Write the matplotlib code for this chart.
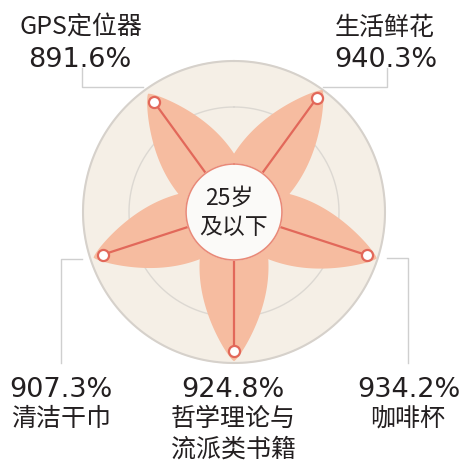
import numpy as np
import matplotlib
matplotlib.use("Agg")
import matplotlib.pyplot as plt
from matplotlib.lines import Line2D

### DATA ###

categories = ["生活鲜花", "咖啡杯", "哲学理论与\n流派类书籍", "清洁干巾", "GPS定位器"]
values = [940.3, 934.2, 924.8, 907.3, 891.6]
center_label = ["25岁", "及以下"]

### STYLE ###

W, H = 470, 463
bg_fill = "#F5EFE6"
bg_edge = "#D6D1CB"
grid_col = "#DCD8D2"
petal_col = "#F6BCA0"
line_col = "#E2685A"
text_col = "#231F20"
lead_col = "#CFCFCF"
cjk = ["Noto Sans CJK SC", "DejaVu Sans"]
num = ["DejaVu Sans"]

# radial scale: center of the rose sits at rmin, outer ring at rmax
rmin, rmax = -602.0, 1054.0
R_PX = 151.0                      # outer ring radius in pixels
k = (rmax - rmin) / R_PX          # data units per pixel


def px(x, y):
    return x / W, 1 - y / H


def petal(theta, tip_r, width_px=69.0, back_px=40.0):
    # leaf shape along the spoke, built in pixel units then mapped to polar
    L = (tip_r - rmin) / k
    d = np.linspace(1.0, L, 200)
    t = (d + back_px) / (L + back_px)
    w = width_px / 2 * np.sin(np.pi * t) ** 0.8
    d_all = np.concatenate([d, d[::-1]])
    w_all = np.concatenate([w, -w[::-1]])
    ang = theta + np.arctan2(w_all, d_all)
    rad = rmin + np.hypot(d_all, w_all) * k
    return ang, rad


### FIGURE ###

fig = plt.figure(figsize=(W / 100, H / 100), dpi=100)
cx, cy = 234, 212
ax = fig.add_axes([(cx - R_PX) / W, (H - cy - R_PX) / H, 2 * R_PX / W, 2 * R_PX / H],
                  projection="polar")
ax.set_theta_zero_location("N")
ax.set_theta_direction(-1)
ax.set_ylim(rmin, rmax)
ax.set_axis_off()

full = np.linspace(0, 2 * np.pi, 400)
ax.fill(full, np.full_like(full, rmax), color=bg_fill, zorder=0, clip_on=False)
ax.plot(full, np.full_like(full, rmax), color=bg_edge, lw=1.5, zorder=1, clip_on=False)
ax.plot(full, np.full_like(full, rmin + 105 * k), color=grid_col, lw=1.0, zorder=1)

angles = np.deg2rad(36 + 72 * np.arange(len(values)))
for th, v in zip(angles, values):
    a, r = petal(th, v + 10 * k)
    ax.fill(a, r, color=petal_col, lw=0, zorder=2, clip_on=False)
for th, v in zip(angles, values):
    ax.plot([th, th], [rmin, v], color=line_col, lw=1.6, zorder=3)

r_c = rmin + 48 * k
ax.fill(full, np.full_like(full, r_c), color="#FBFAF8", zorder=4)
ax.plot(full, np.full_like(full, r_c), color="#E98A78", lw=1.2, zorder=4)

ax.plot(angles, values, "o", ms=8, mfc="white", mec=line_col, mew=1.6, zorder=5, clip_on=False)

fig.text(*px(cx - 5, 205), center_label[0], family=cjk, fontsize=16.5, color=text_col,
         ha="center", va="baseline")
fig.text(*px(cx, 234), center_label[1], family=cjk, fontsize=16.5, color=text_col,
         ha="center", va="baseline")

### LABELS ###

# (name x, name baseline, number x, number baseline) in pixels
top_pos = {"GPS定位器": (81, 35, 80, 67), "生活鲜花": (385, 35, 386, 67)}
bottom_pos = {"清洁干巾": (61, 61), "哲学理论与\n流派类书籍": (233, 233), "咖啡杯": (408, 409)}

for name, v in zip(categories, values):
    label = f"{v:.1f}%"
    if name in top_pos:
        nx, ny, vx, vy = top_pos[name]
        fig.text(*px(nx, ny), name, family=cjk, fontsize=18, color=text_col,
                 ha="center", va="baseline")
        fig.text(*px(vx, vy), label, family=num, fontsize=19.5, color=text_col,
                 ha="center", va="baseline")
    else:
        nx, vx = bottom_pos[name]
        fig.text(*px(vx, 397), label, family=num, fontsize=19.5, color=text_col,
                 ha="center", va="baseline")
        for i, part in enumerate(name.split("\n")):
            fig.text(*px(nx, 426 + 31 * i), part, family=cjk, fontsize=18, color=text_col,
                     ha="center", va="baseline")

# leader lines
leaders = [
    [(82, 68), (82, 87), (143, 87)],
    [(387, 68), (387, 87), (323, 87)],
    [(61, 363), (61, 259), (82, 259)],
    [(408, 363), (408, 258), (387, 258)],
]
for pts in leaders:
    xs, ys = zip(*[px(x, y) for x, y in pts])
    fig.add_artist(Line2D(xs, ys, color=lead_col, lw=1.0, zorder=0))

fig.savefig("out.png", dpi=100, facecolor="white")
